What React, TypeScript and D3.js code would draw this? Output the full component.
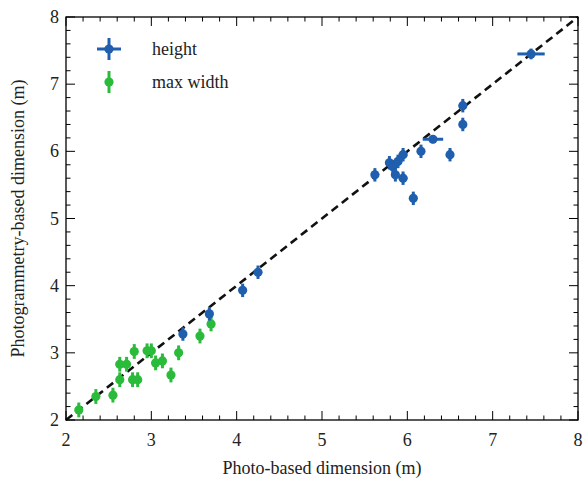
import React from "react";
import * as d3 from "d3";

const heightX = [7.45, 6.65, 6.65, 6.3, 6.16, 6.5, 5.95, 6.07, 5.62, 5.79, 5.83, 5.86, 5.89, 5.95, 4.25, 4.07, 3.68, 3.37];
const heightY = [7.45, 6.68, 6.4, 6.18, 6.0, 5.95, 5.6, 5.3, 5.65, 5.83, 5.77, 5.65, 5.85, 5.95, 4.2, 3.93, 3.58, 3.28];
const heightXErr = [0.16, 0.04, 0.03, 0.12, 0.04, 0.04, 0.05, 0.03, 0.04, 0.05, 0.05, 0.04, 0.05, 0.05, 0.03, 0.03, 0.03, 0.03];
const heightYErr = [0.08, 0.1, 0.1, 0.06, 0.1, 0.1, 0.1, 0.1, 0.1, 0.1, 0.1, 0.1, 0.1, 0.1, 0.1, 0.1, 0.1, 0.1];

const widthX = [2.15, 2.35, 2.55, 2.63, 2.63, 2.71, 2.78, 2.84, 2.8, 2.95, 3.0, 3.05, 3.13, 3.23, 3.32, 3.57, 3.7];
const widthY = [2.15, 2.35, 2.37, 2.6, 2.83, 2.83, 2.6, 2.6, 3.02, 3.03, 3.03, 2.85, 2.88, 2.67, 3.0, 3.25, 3.43];
const widthYErr = [0.11, 0.11, 0.11, 0.11, 0.11, 0.11, 0.11, 0.11, 0.11, 0.11, 0.11, 0.11, 0.11, 0.11, 0.11, 0.11, 0.11];

const xTicks = [2, 3, 4, 5, 6, 7, 8];
const yTicks = [2, 3, 4, 5, 6, 7, 8];
const legendLabels = ["height", "max width"];

const BLUE = "#1f5fae";
const GREEN = "#2bbb3b";
const FONT = "'Liberation Serif', 'DejaVu Serif', serif";

export default function App() {
  const W = 585, H = 483;
  const L = 66, R = 578, T = 17, B = 420;
  const x = d3.scaleLinear().domain([2, 8]).range([L, R]);
  const y = d3.scaleLinear().domain([2, 8]).range([B, T]);
  const minor = d3.range(2, 8.001, 0.2).filter((v) => Math.abs(v - Math.round(v)) > 0.01);

  const line = d3.line<number>().x((d) => x(d)).y((d) => y(d));

  return (
    <svg width={W} height={H} style={{ position: "absolute", left: 0, top: 0, background: "#fff" }}>
      {/* ticks */}
      <g stroke="#000" strokeWidth={1}>
        {xTicks.map((t) => (
          <g key={"xt" + t}>
            <line x1={x(t)} x2={x(t)} y1={B} y2={B - 9} />
            <line x1={x(t)} x2={x(t)} y1={T} y2={T + 9} />
          </g>
        ))}
        {minor.map((t) => (
          <g key={"xm" + t}>
            <line x1={x(t)} x2={x(t)} y1={B} y2={B - 4.5} />
            <line x1={x(t)} x2={x(t)} y1={T} y2={T + 4.5} />
            <line x1={L} x2={L + 4.5} y1={y(t)} y2={y(t)} />
            <line x1={R} x2={R - 4.5} y1={y(t)} y2={y(t)} />
          </g>
        ))}
        {yTicks.map((t) => (
          <g key={"yt" + t}>
            <line x1={L} x2={L + 9} y1={y(t)} y2={y(t)} />
            <line x1={R} x2={R - 9} y1={y(t)} y2={y(t)} />
          </g>
        ))}
      </g>
      {/* diagonal */}
      <path d={line([2, 8]) || ""} stroke="#111" strokeWidth={2.6} strokeDasharray="8,5" fill="none" />
      {/* green points */}
      <g>
        {widthX.map((v, i) => (
          <g key={"w" + i}>
            <line x1={x(v)} x2={x(v)} y1={y(widthY[i] - widthYErr[i])} y2={y(widthY[i] + widthYErr[i])} stroke={GREEN} strokeWidth={3} />
            <circle cx={x(v)} cy={y(widthY[i])} r={4.6} fill={GREEN} />
          </g>
        ))}
      </g>
      {/* blue points */}
      <g>
        {heightX.map((v, i) => (
          <g key={"h" + i}>
            <line x1={x(v)} x2={x(v)} y1={y(heightY[i] - heightYErr[i])} y2={y(heightY[i] + heightYErr[i])} stroke={BLUE} strokeWidth={3} />
            <line x1={x(v - heightXErr[i])} x2={x(v + heightXErr[i])} y1={y(heightY[i])} y2={y(heightY[i])} stroke={BLUE} strokeWidth={3} />
            <circle cx={x(v)} cy={y(heightY[i])} r={4.6} fill={BLUE} />
          </g>
        ))}
      </g>
      {/* frame */}
      <rect x={L} y={T} width={R - L} height={B - T} fill="none" stroke="#000" strokeWidth={1.3} />
      {/* tick labels */}
      <g fontFamily={FONT} fontSize={18} fill="#222">
        {xTicks.map((t) => (
          <text key={"xl" + t} x={x(t)} y={B + 26} textAnchor="middle">{t}</text>
        ))}
        {yTicks.map((t) => (
          <text key={"yl" + t} x={L - 7} y={y(t) + 6} textAnchor="end">{t}</text>
        ))}
      </g>
      {/* axis titles */}
      <text x={(L + R) / 2} y={474} textAnchor="middle" fontFamily={FONT} fontSize={18} fill="#222">
        Photo-based dimension (m)
      </text>
      <text transform={`translate(24, ${(T + B) / 2}) rotate(-90)`} textAnchor="middle" fontFamily={FONT} fontSize={18} fill="#222">
        Photogrammetry-based dimension (m)
      </text>
      {/* legend */}
      <g>
        <line x1={97} x2={121} y1={49} y2={49} stroke={BLUE} strokeWidth={3} />
        <line x1={109} x2={109} y1={38} y2={60} stroke={BLUE} strokeWidth={3} />
        <circle cx={109} cy={49} r={4.6} fill={BLUE} />
        <text x={152} y={55} fontFamily={FONT} fontSize={18} fill="#222">{legendLabels[0]}</text>
        <line x1={109} x2={109} y1={71} y2={93} stroke={GREEN} strokeWidth={3} />
        <circle cx={109} cy={82} r={4.6} fill={GREEN} />
        <text x={152} y={88} fontFamily={FONT} fontSize={18} fill="#222">{legendLabels[1]}</text>
      </g>
    </svg>
  );
}
